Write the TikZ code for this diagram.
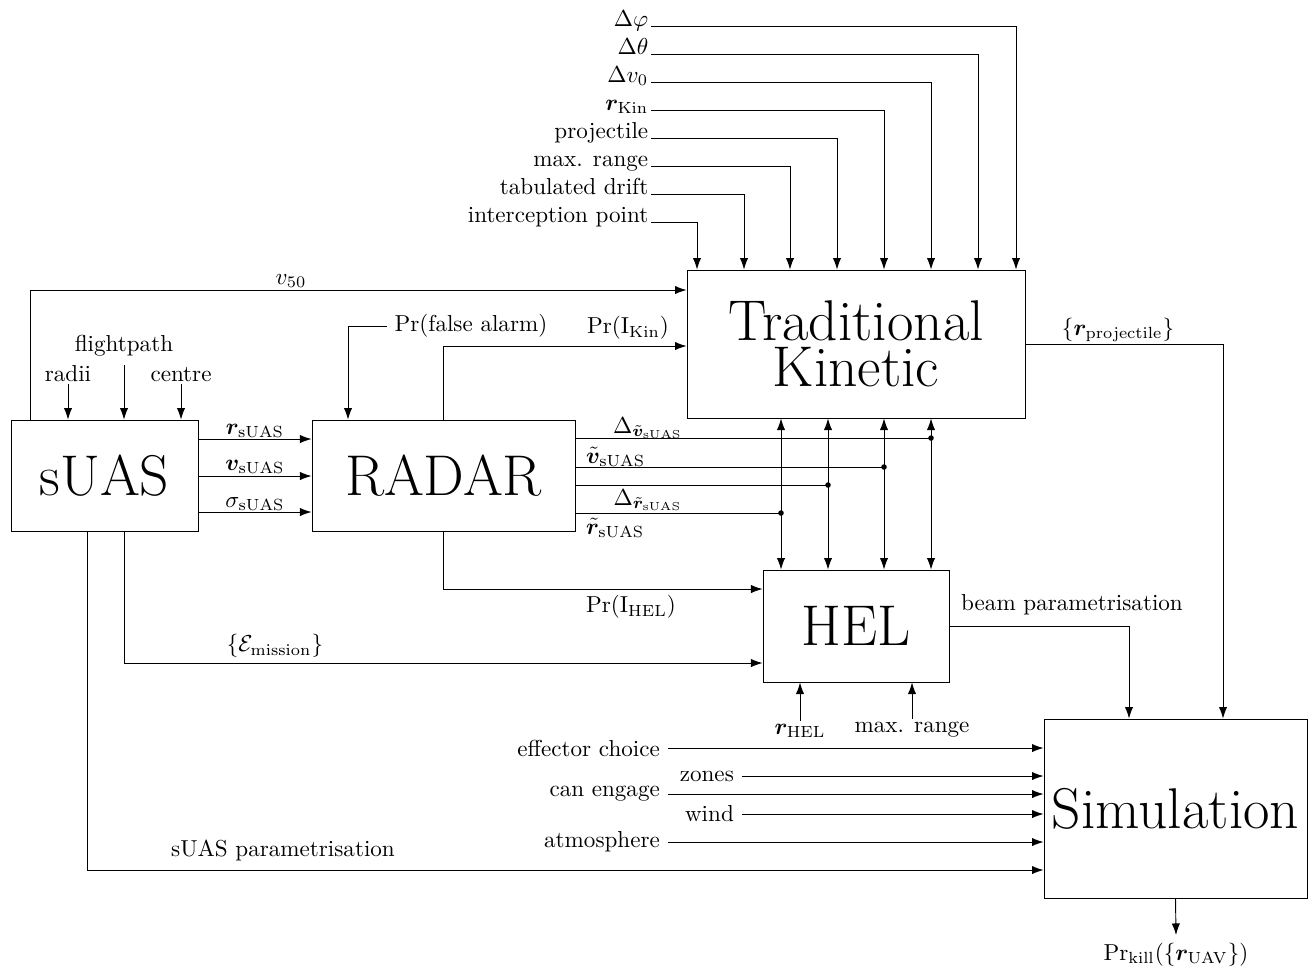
\documentclass[tikz,border=0pt]{standalone}
\usepackage{amsmath}
\usepackage{bm}
\usetikzlibrary{arrows.meta}

\begin{document}
\begin{tikzpicture}[x=0.433pt, y=-0.433pt, >={Latex[length=5pt,width=3.6pt]}, main/.style = {draw, rectangle, inner sep=0pt, font={\fontsize{24.88}{20}\selectfont}}, lbl/.style = {inner sep=1pt}]
	\useasboundingbox (0,0) rectangle (1311,967);
	\node[main, minimum width=80.97pt, minimum height=48.06pt] (suas) at (104.5,475.5) {sUAS};
	\node[main, minimum width=113.88pt, minimum height=48.06pt] (radar) at (443.5,475.5) {RADAR};
	\node[main, minimum width=146.35pt, minimum height=64.08pt, align=center] (kin) at (856,344) {Traditional\\Kinetic};
	\node[main, minimum width=80.54pt, minimum height=48.5pt] (hel) at (856,626) {HEL};
	\node[main, minimum width=113.88pt, minimum height=77.51pt] (sim) at (1175.5,808.5) {Simulation};
	\node[lbl, anchor=base east] (dphi) at (651,26) {$\Delta\varphi$};
	\node[lbl, anchor=base east] (dtheta) at (651,54) {$\Delta\theta$};
	\node[lbl, anchor=base east] (dvnull) at (651,82) {$\Delta v_0$};
	\node[lbl, anchor=base east] (rkin) at (651,110) {$\bm{r}_{\mathrm{Kin}}$};
	\node[lbl, anchor=base east] (proj) at (651,138) {projectile};
	\node[lbl, anchor=base east] (krange) at (651,166) {max. range};
	\node[lbl, anchor=base east] (drift) at (651,194) {tabulated drift};
	\node[lbl, anchor=base east] (ipoint) at (651,222) {interception point};
	\draw[->] (dphi.base east) -| (kin.north -| 1016,0);
	\draw[->] (dtheta.base east) -| (kin.north -| 978,0);
	\draw[->] (dvnull.base east) -| (kin.north -| 931,0);
	\draw[->] (rkin.base east) -| (kin.north -| 884,0);
	\draw[->] (proj.base east) -| (kin.north -| 837,0);
	\draw[->] (krange.base east) -| (kin.north -| 790,0);
	\draw[->] (drift.base east) -| (kin.north -| 744,0);
	\draw[->] (ipoint.base east) -| (kin.north -| 697,0);
	\node (vfifty) at (291,281) {$v_{50}$};
	\draw[->] (suas.north -| 30,0) |- (kin.west |- 0,290);
	\node (pfa) at (471,326) {Pr(false alarm)};
	\draw[->] (pfa.west) -| (radar.north -| 348,0);
	\node (pikin) at (628,328) {$\Pr(\mathrm{I}_{\mathrm{Kin}})$};
	\draw[->] (radar.north) |- (kin.west |- 0,346);
	\node[lbl, anchor=base] (radii) at (68,381) {radii};
	\node[lbl, anchor=base] (fpath) at (124,351) {flightpath};
	\node[lbl, anchor=base] (centre) at (181,381) {centre};
	\draw[->] (radii.south) -- (radii.south |- suas.north);
	\draw[->] ([yshift=-3pt]fpath.south) -- (fpath.south |- suas.north);
	\draw[->] (centre.south) -- (centre.south |- suas.north);
	\node (rsuas) at (255,431) {$\bm{r}_{\mathrm{sUAS}}$};
	\node (vsuas) at (255,467) {$\bm{v}_{\mathrm{sUAS}}$};
	\node (sigsuas) at (255,504) {$\sigma_{\mathrm{sUAS}}$};
	\draw[->] (suas.east |- 0,439) -- (radar.west |- 0,439);
	\draw[->] (suas.east |- 0,476) -- (radar.west |- 0,476);
	\draw[->] (suas.east |- 0,512) -- (radar.west |- 0,512);
	\coordinate (j1) at (781,513);
	\coordinate (j2) at (828,485);
	\coordinate (j3) at (884,467);
	\coordinate (j4) at (931,438);
	\draw (radar.east |- j1) -- (j1);
	\draw (radar.east |- j2) -- (j2);
	\draw (radar.east |- j3) -- (j3);
	\draw (radar.east |- j4) -- (j4);
	\draw[<->] (hel.north -| j1) -- (kin.south -| j1);
	\draw[<->] (hel.north -| j2) -- (kin.south -| j2);
	\draw[<->] (hel.north -| j3) -- (kin.south -| j3);
	\draw[<->] (hel.north -| j4) -- (kin.south -| j4);
	\fill (j1) circle (1.2pt);
	\fill (j2) circle (1.2pt);
	\fill (j3) circle (1.2pt);
	\fill (j4) circle (1.2pt);
	\node (dvt) at (648,428) {$\Delta_{\tilde{\bm{v}}_{\mathrm{sUAS}}}$};
	\node[anchor=west] (vt) at (578,457) {$\tilde{\bm{v}}_{\mathrm{sUAS}}$};
	\node (drt) at (648,500) {$\Delta_{\tilde{\bm{r}}_{\mathrm{sUAS}}}$};
	\node[anchor=west] (rt) at (578,528) {$\tilde{\bm{r}}_{\mathrm{sUAS}}$};
	\node (pihel) at (631,607) {$\Pr(\mathrm{I}_{\mathrm{HEL}})$};
	\draw[->] (radar.south) |- (hel.west |- 0,589);
	\node (emis) at (275,646) {$\{\mathcal{E}_{\mathrm{mission}}\}$};
	\draw[->] (suas.south -| 124,0) |- (hel.west |- 0,663);
	\node (spar) at (283,850) {sUAS parametrisation};
	\draw[->] (suas.south -| 87,0) |- (sim.west |- 0,870);
	\node[lbl, anchor=base] (rhel) at (800,734) {$\bm{r}_{\mathrm{HEL}}$};
	\node[lbl, anchor=base] (hrange) at (912,732) {max. range};
	\draw[->] (rhel.north) -- (rhel.north |- hel.south);
	\draw[->] (hrange.north) -- (hrange.north |- hel.south);
	\node (beam) at (1072,605) {beam parametrisation};
	\draw[->] (hel.east) -| (sim.north -| 1129,0);
	\node (rproj) at (1118,330) {$\{\bm{r}_{\mathrm{projectile}}\}$};
	\draw[->] (kin.east) -| (sim.north -| 1223,0);
	\node[anchor=east] (eff) at (668,748) {effector choice};
	\node[anchor=east] (zones) at (742,776) {zones};
	\node[anchor=east] (engage) at (668,794) {can engage};
	\node[anchor=east] (wind) at (742,814) {wind};
	\node[anchor=east] (atmo) at (668,842) {atmosphere};
	\draw[->] (eff.east) -- (sim.west |- eff.east);
	\draw[->] (zones.east) -- (sim.west |- zones.east);
	\draw[->] (engage.east) -- (sim.west |- engage.east);
	\draw[->] (wind.east) -- (sim.west |- wind.east);
	\draw[->] (atmo.east) -- (sim.west |- atmo.east);
	\node[anchor=north] (pkill) at (1176,935) {$\Pr_{\mathrm{kill}}(\{\bm{r}_{\mathrm{UAV}}\})$};
	\draw[->] (sim.south) -- (pkill.north);
\end{tikzpicture}
\end{document}
